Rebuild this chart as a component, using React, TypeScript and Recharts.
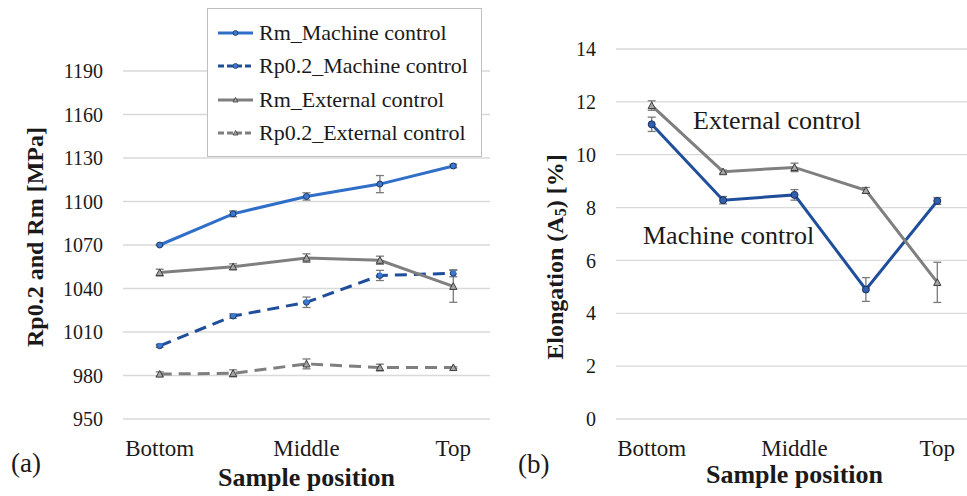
import { LineChart, Line, XAxis, YAxis, CartesianGrid, ErrorBar, Legend, Label, Customized } from 'recharts'

const FONT = '"Liberation Serif", "Times New Roman", serif'
const TEXT = '#1a1a1a'
const GRID = '#d9d9d9'
const BLUE = '#2f6fc8'
const BLUE_DARK = '#1f4e9b'
const GRAY = '#7f7f7f'
const ERR = '#7a7a7a'

// x categories (5 sampling heights, only three are labelled)
const samplePositions = [1, 2, 3, 4, 5]
const positionLabels = ['Bottom', '', 'Middle', '', 'Top']

// (a) strength [MPa]
const strengthTicks = [950, 980, 1010, 1040, 1070, 1100, 1130, 1160, 1190]
const rmMachine = [1070, 1091.5, 1103.5, 1112, 1124.5]
const rmMachineErr = [0.5, 2, 2.5, 5.9, 1.2]
const rp02Machine = [1000.5, 1021, 1030.5, 1049, 1050.5]
const rp02MachineErr = [1, 1.5, 3.6, 3.5, 2.4]
const rmExternal = [1051, 1055, 1061, 1059.5, 1041.5]
const rmExternalErr = [2.3, 2, 2.9, 2.8, 11]
const rp02External = [981, 981.5, 988, 985.5, 985.5]
const rp02ExternalErr = [1.5, 2.4, 3.4, 2.3, 0.5]
const strengthLegendOrder = ['Rm_Machine control', 'Rp0.2_Machine control', 'Rm_External control', 'Rp0.2_External control']

// (b) elongation A5 [%]
const elongationTicks = [0, 2, 4, 6, 8, 10, 12, 14]
const elongMachine = [11.15, 8.28, 8.48, 4.9, 8.25]
const elongMachineErr = [0.27, 0.14, 0.2, 0.45, 0.13]
const elongExternal = [11.86, 9.36, 9.52, 8.65, 5.17]
const elongExternalErr = [0.18, 0.06, 0.16, 0.11, 0.76]

const strengthData = samplePositions.map((pos, i) => ({
  pos,
  rmMachine: rmMachine[i],
  rmMachineErr: rmMachineErr[i],
  rp02Machine: rp02Machine[i],
  rp02MachineErr: rp02MachineErr[i],
  rmExternal: rmExternal[i],
  rmExternalErr: rmExternalErr[i],
  rp02External: rp02External[i],
  rp02ExternalErr: rp02ExternalErr[i],
}))

const elongationData = samplePositions.map((pos, i) => ({
  pos,
  machine: elongMachine[i],
  machineErr: elongMachineErr[i],
  external: elongExternal[i],
  externalErr: elongExternalErr[i],
}))

const circleDot = { r: 3, fill: '#3a78d2', stroke: '#1f3864', strokeWidth: 1 }

const TriangleDot = (props: any) => {
  const { cx, cy, index } = props
  if (cx == null || cy == null) return null
  const s = 3.6
  return (
    <path
      key={`tri-${index}`}
      d={`M${cx},${cy - s} L${cx + s},${cy + s * 0.85} L${cx - s},${cy + s * 0.85} Z`}
      fill="#a6a6a6"
      stroke="#3a3a3a"
      strokeWidth={1}
    />
  )
}

const tickStyle = (size: number) => ({ fill: TEXT, fontSize: size, fontFamily: FONT })

const VerticalTitle = ({ x, y, children }: { x: number; y: number; children: any }) => (
  <text
    x={x}
    y={y}
    transform={`rotate(-90 ${x} ${y})`}
    textAnchor="middle"
    dominantBaseline="central"
    fill={TEXT}
    fontFamily={FONT}
    fontWeight="bold"
    fontSize={24}
  >
    {children}
  </text>
)

const StrengthLegend = (props: any) => {
  const payload = [...(props.payload || [])].sort(
    (a: any, b: any) => strengthLegendOrder.indexOf(a.value) - strengthLegendOrder.indexOf(b.value)
  )
  return (
    <div
      style={{
        width: 275,
        height: 149,
        boxSizing: 'border-box',
        border: '1px solid #bfbfbf',
        background: '#fff',
        padding: '7px 0 0 9px',
        fontFamily: FONT,
        fontSize: 22,
        color: TEXT,
      }}
    >
      {payload.map((entry: any) => {
        const dashed = entry.payload?.strokeDasharray
        const isTriangle = entry.dataKey === 'rmExternal' || entry.dataKey === 'rp02External'
        return (
          <div key={entry.value} style={{ display: 'flex', alignItems: 'center', height: 33.5 }}>
            <svg width={38} height={12} style={{ marginRight: 4 }}>
              <line x1={1} y1={6} x2={36} y2={6} stroke={entry.color} strokeWidth={3} strokeDasharray={dashed ? '6 3' : undefined} />
              {isTriangle ? (
                <path d="M18.5,3.5 L21,8 L16,8 Z" fill="#a6a6a6" stroke="#3a3a3a" strokeWidth={0.8} />
              ) : (
                <circle cx={18.5} cy={6} r={2.5} fill="#3a78d2" stroke="#1f3864" strokeWidth={0.8} />
              )}
            </svg>
            <span style={{ lineHeight: 1 }}>{entry.value}</span>
          </div>
        )
      })}
    </div>
  )
}

const PanelText = ({ items }: { items: { x: number; y: number; text: string; size: number }[] }) => (
  <g>
    {items.map((t) => (
      <text key={t.text} x={t.x} y={t.y} fill={TEXT} fontFamily={FONT} fontSize={t.size}>
        {t.text}
      </text>
    ))}
  </g>
)

const xTickFormatter = (_v: any, i: number) => positionLabels[i]

export default function App() {
  return (
    <div
      style={{
        position: 'fixed',
        left: 0,
        top: 0,
        width: 967,
        height: 496,
        overflow: 'hidden',
        background: '#fff',
        fontFamily: FONT,
      }}
    >
      {/* (a) strength */}
      <div style={{ position: 'absolute', left: 0, top: 0 }}>
        <LineChart width={500} height={496} data={strengthData} margin={{ top: 71, right: 10, bottom: 0, left: 0 }}>
          <CartesianGrid vertical={false} stroke={GRID} strokeWidth={1.3} />
          <XAxis
            dataKey="pos"
            interval={0}
            padding={{ left: 36.7, right: 36.7 }}
            tickFormatter={xTickFormatter}
            axisLine={false}
            tickLine={false}
            tickSize={0}
            tickMargin={21}
            height={77}
            tick={tickStyle(23)}
          >
            <Label
              value="Sample position"
              position="insideBottom"
              offset={10}
              style={{ fill: TEXT, fontFamily: FONT, fontSize: 26, fontWeight: 'bold' }}
            />
          </XAxis>
          <YAxis
            domain={[950, 1190]}
            ticks={strengthTicks}
            interval={0}
            width={123}
            axisLine={false}
            tickLine={false}
            tickSize={0}
            tickMargin={20}
            tick={tickStyle(20)}
            label={{ content: () => <VerticalTitle x={35} y={237}>Rp0.2 and Rm [MPa]</VerticalTitle> }}
          />
          <Legend
            layout="horizontal"
            verticalAlign="middle"
            align="center"
            content={StrengthLegend}
            wrapperStyle={{ left: 207, top: 8, width: 275, height: 149 }}
          />
          <Line
            name="Rm_Machine control"
            dataKey="rmMachine"
            stroke={BLUE}
            strokeWidth={3}
            dot={circleDot}
            activeDot={false}
            isAnimationActive={false}
          >
            <ErrorBar dataKey="rmMachineErr" direction="y" width={4} stroke={ERR} strokeWidth={1.3} />
          </Line>
          <Line
            name="Rp0.2_Machine control"
            dataKey="rp02Machine"
            stroke={BLUE_DARK}
            strokeWidth={3}
            strokeDasharray="12 7"
            dot={circleDot}
            activeDot={false}
            isAnimationActive={false}
          >
            <ErrorBar dataKey="rp02MachineErr" direction="y" width={4} stroke={ERR} strokeWidth={1.3} />
          </Line>
          <Line
            name="Rm_External control"
            dataKey="rmExternal"
            stroke={GRAY}
            strokeWidth={3}
            dot={TriangleDot}
            activeDot={false}
            isAnimationActive={false}
          >
            <ErrorBar dataKey="rmExternalErr" direction="y" width={4} stroke={ERR} strokeWidth={1.3} />
          </Line>
          <Line
            name="Rp0.2_External control"
            dataKey="rp02External"
            stroke={GRAY}
            strokeWidth={3}
            strokeDasharray="12 7"
            dot={TriangleDot}
            activeDot={false}
            isAnimationActive={false}
          >
            <ErrorBar dataKey="rp02ExternalErr" direction="y" width={4} stroke={ERR} strokeWidth={1.3} />
          </Line>
          <Customized component={() => <PanelText items={[{ x: 11, y: 472, text: '(a)', size: 27 }]} />} />
        </LineChart>
      </div>

      {/* (b) elongation */}
      <div style={{ position: 'absolute', left: 500, top: 0 }}>
        <LineChart width={500} height={496} data={elongationData} margin={{ top: 49, right: 27, bottom: 0, left: 0 }}>
          <CartesianGrid vertical={false} stroke={GRID} strokeWidth={1.3} />
          <XAxis
            dataKey="pos"
            interval={0}
            padding={{ left: 35.7, right: 35.7 }}
            tickFormatter={xTickFormatter}
            axisLine={false}
            tickLine={false}
            tickSize={0}
            tickMargin={21}
            height={77}
            tick={tickStyle(23)}
          >
            <Label
              value="Sample position"
              position="insideBottom"
              offset={13}
              style={{ fill: TEXT, fontFamily: FONT, fontSize: 26, fontWeight: 'bold' }}
            />
          </XAxis>
          <YAxis
            domain={[0, 14]}
            ticks={elongationTicks}
            interval={0}
            width={116}
            axisLine={false}
            tickLine={false}
            tickSize={0}
            tickMargin={20}
            tick={tickStyle(20)}
            label={{
              content: () => (
                <VerticalTitle x={55} y={257}>
                  <tspan>Elongation (A</tspan>
                  <tspan dy={5} fontSize={16}>5</tspan>
                  <tspan dy={-5}>) [%]</tspan>
                </VerticalTitle>
              ),
            }}
          />
          <Line
            name="Machine control"
            dataKey="machine"
            stroke={BLUE_DARK}
            strokeWidth={3}
            dot={{ r: 3.5, fill: '#2f5fae', stroke: '#1a2f5a', strokeWidth: 1 }}
            activeDot={false}
            isAnimationActive={false}
          >
            <ErrorBar dataKey="machineErr" direction="y" width={4} stroke={ERR} strokeWidth={1.3} />
          </Line>
          <Line
            name="External control"
            dataKey="external"
            stroke={GRAY}
            strokeWidth={3}
            dot={TriangleDot}
            activeDot={false}
            isAnimationActive={false}
          >
            <ErrorBar dataKey="externalErr" direction="y" width={4} stroke={ERR} strokeWidth={1.3} />
          </Line>
          <Customized
            component={() => (
              <PanelText
                items={[
                  { x: 193, y: 129, text: 'External control', size: 26 },
                  { x: 143, y: 244, text: 'Machine control', size: 26 },
                  { x: 18, y: 473, text: '(b)', size: 27 },
                ]}
              />
            )}
          />
        </LineChart>
      </div>
    </div>
  )
}
